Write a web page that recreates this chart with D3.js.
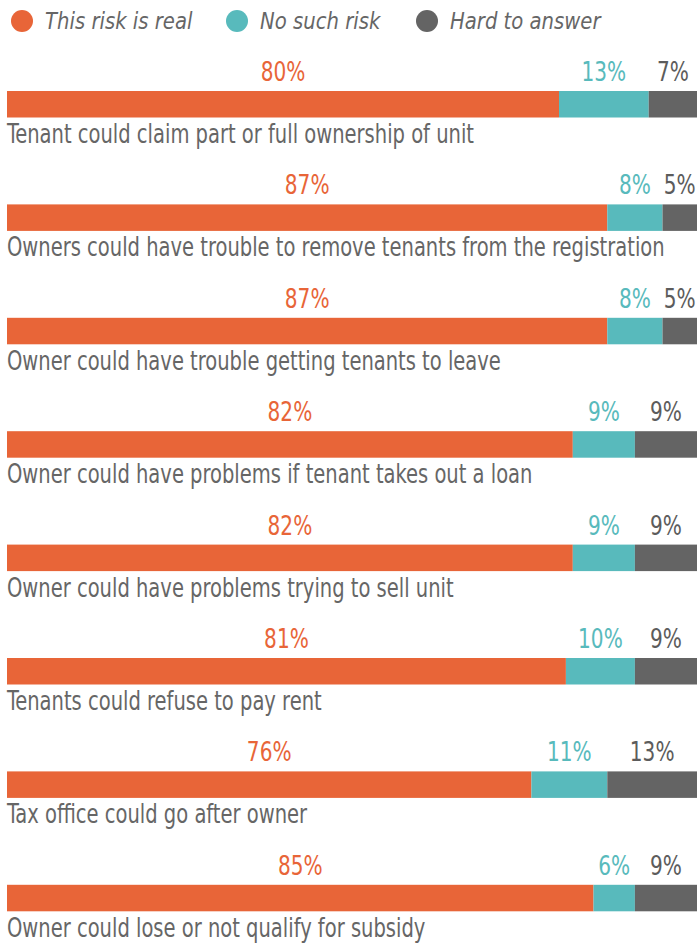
<!DOCTYPE html>
<html>
<head>
<meta charset="utf-8">
<script src="https://cdn.jsdelivr.net/npm/d3@7"></script>
<style>
  html, body { margin: 0; padding: 0; background: #fff; }
  svg { display: block; }
</style>
</head>
<body>
<div id="chart"></div>
<script>
// Survey data: share of answers per risk (percent)
const categories = [
  "Tenant could claim part or full ownership of unit",
  "Owners could have trouble to remove tenants from the registration",
  "Owner could have trouble getting tenants to leave",
  "Owner could have problems if tenant takes out a loan",
  "Owner could have problems trying to sell unit",
  "Tenants could refuse to pay rent",
  "Tax office could go after owner",
  "Owner could lose or not qualify for subsidy"
];
const seriesNames = ["This risk is real", "No such risk", "Hard to answer"];
const riskReal = [80, 87, 87, 82, 82, 81, 76, 85];
const noRisk = [13, 8, 8, 9, 9, 10, 11, 6];
const hardToAnswer = [7, 5, 5, 9, 9, 9, 13, 9];

const colors = ["#E86538", "#58BABC", "#646464"];
const labelColors = ["#E86538", "#58BABC", "#5c5c5c"];

const width = 697, height = 945;
const font = "'DejaVu Sans Condensed', 'Liberation Sans Narrow', sans-serif";

const svg = d3.select("#chart").append("svg")
  .attr("width", width)
  .attr("height", height)
  .style("font-family", font);

// build stacked rows from the arrays
const rows = categories.map((c, i) => ({
  category: c,
  values: [riskReal[i], noRisk[i], hardToAnswer[i]]
}));
const stack = d3.stack().keys([0, 1, 2]).value((d, k) => d.values[k]);
const stacked = stack(rows);

const x = d3.scaleLinear().domain([0, 100]).range([7, 697]);
const y = d3.scaleBand()
  .domain(categories)
  .range([91, 911.3])
  .paddingInner(0.7663)
  .paddingOuter(0)
  .align(0);

// the reference uses a narrow DIN-like face, so squeeze the text horizontally
const squeeze = (tx, ty, sx) => `translate(${tx},${ty}) scale(${sx},1)`;

// --- Legend ---
const legendX = [22, 237, 427];
const legend = svg.append("g").attr("class", "legend");
seriesNames.forEach((name, k) => {
  legend.append("circle")
    .attr("cx", legendX[k])
    .attr("cy", 21)
    .attr("r", 11)
    .attr("fill", colors[k]);
  legend.append("text")
    .attr("transform", squeeze(legendX[k] + 23, 29, 0.95))
    .attr("fill", "#666")
    .style("font-size", "23px")
    .style("font-style", "italic")
    .text(name);
});

// --- Bars ---
const layers = svg.append("g").selectAll("g")
  .data(stacked)
  .join("g")
  .attr("fill", (d, k) => colors[k]);

layers.selectAll("rect")
  .data(d => d)
  .join("rect")
  .attr("x", d => x(d[0]))
  .attr("y", d => y(d.data.category))
  .attr("width", d => x(d[1]) - x(d[0]))
  .attr("height", y.bandwidth());

// --- Value labels, centred above each segment ---
const valueLabels = svg.append("g").selectAll("g")
  .data(stacked)
  .join("g")
  .attr("fill", (d, k) => labelColors[k]);

valueLabels.selectAll("text")
  .data(d => d)
  .join("text")
  .attr("transform", d => squeeze(x((d[0] + d[1]) / 2), y(d.data.category) - 10, 0.86))
  .attr("text-anchor", "middle")
  .style("font-size", "26px")
  .text(d => (d[1] - d[0]) + "%");

// --- Category labels under each bar ---
svg.append("g").selectAll("text")
  .data(categories)
  .join("text")
  .attr("transform", d => squeeze(7, y(d) + 52, 0.835))
  .attr("fill", "#666")
  .style("font-size", "26px")
  .text(d => d);
</script>
</body>
</html>
